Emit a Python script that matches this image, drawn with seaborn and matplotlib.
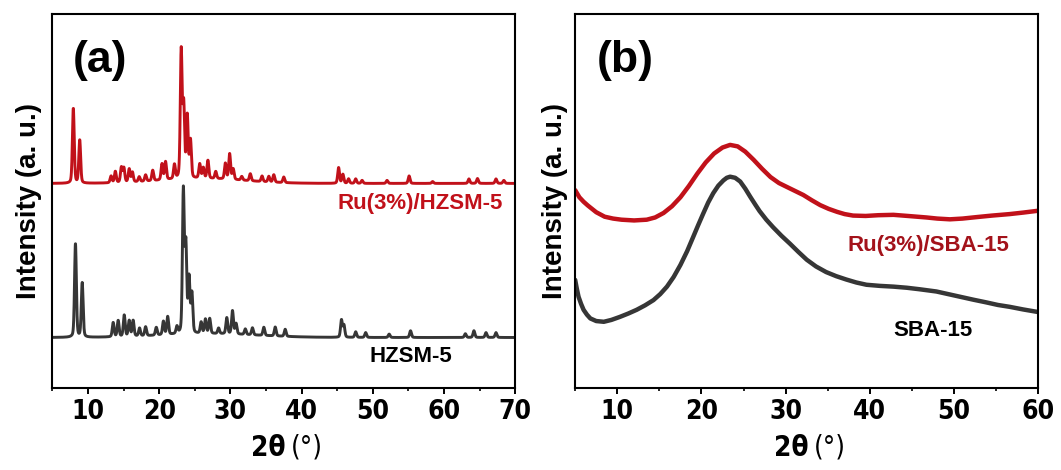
import numpy as np
import pandas as pd
import matplotlib
matplotlib.use("Agg")
import matplotlib.pyplot as plt
import seaborn as sns
from matplotlib.ticker import MultipleLocator

# ---------------- (a) HZSM-5 patterns: reflections (2theta, height) ----------------
ru_hzsm_pos = [7.95, 8.85, 13.25, 13.85, 14.7, 15.05, 15.8, 16.25, 17.2, 18.1, 19.1,
               20.4, 20.9, 22.15, 23.1, 23.45, 23.95, 24.4, 25.7, 26.2, 26.85, 27.95,
               29.3, 29.9, 30.4, 31.6, 32.8, 34.45, 35.4, 36.1, 37.5, 45.2, 45.8,
               46.6, 47.6, 48.5, 52.0, 55.1, 58.4, 63.5, 64.7, 67.3, 68.4]
ru_hzsm_height = [20.0, 11.5, 1.8, 3.0, 4.0, 3.8, 3.5, 2.6, 1.3, 1.7, 2.8,
                  4.3, 4.8, 3.8, 34.0, 19.0, 16.5, 10.0, 3.8, 2.8, 4.8, 1.9,
                  4.2, 6.8, 2.8, 1.0, 1.9, 1.5, 1.5, 2.0, 1.5, 4.2, 2.4,
                  1.2, 1.2, 0.8, 0.8, 2.0, 0.5, 1.2, 1.3, 1.2, 0.8]
ru_hzsm_baseline = 54.7

hzsm_pos = [8.25, 9.2, 13.55, 14.25, 15.1, 15.8, 16.35, 17.25, 18.1, 19.6, 20.6,
            21.2, 22.5, 23.4, 23.75, 24.2, 24.6, 25.9, 26.5, 27.1, 28.35, 29.5,
            30.3, 30.8, 32.1, 33.1, 34.7, 36.3, 37.7, 45.6, 45.95, 47.6, 49.0,
            52.3, 55.3, 63.0, 64.2, 65.9, 67.3]
hzsm_height = [25.0, 14.5, 3.8, 4.3, 5.7, 4.2, 4.2, 2.1, 2.4, 2.1, 3.6,
               4.8, 1.9, 38.0, 23.0, 14.5, 10.5, 3.0, 3.8, 4.0, 1.5, 4.3,
               6.2, 2.8, 1.5, 1.9, 2.2, 2.4, 1.9, 4.6, 3.2, 1.5, 1.3,
               0.9, 1.8, 1.0, 1.8, 1.3, 1.3]
hzsm_baseline = 13.5

# weak amorphous background under each pattern: (centre, height, fwhm)
ru_hzsm_hump = (26.0, 1.3, 14.0)
hzsm_hump = (27.0, 1.0, 16.0)

# ---------------- (b) SBA-15 patterns: intensity read along 2theta ----------------
ru_sba_2theta = [5.0, 5.5, 6.0, 6.5, 7.5, 8.5, 9.5, 10.5, 12.0, 13.5, 14.5, 15.5, 16.5,
                 17.5, 18.5, 19.5, 20.5, 21.5, 22.5, 23.4, 24.3, 25.2, 26.2, 27.2,
                 28.2, 29.2, 30.1, 31.1, 32.1, 33.1, 34.1, 35.1, 36.1, 37.0, 38.0,
                 39.5, 41.0, 42.8, 44.5, 46.7, 48.0, 49.5, 51.0, 52.7, 54.5, 56.6,
                 58.2, 60.0]
ru_sba_int = [52.9, 51.0, 49.8, 48.8, 47.0, 45.8, 45.3, 45.0, 44.8, 45.0, 45.6, 46.8,
              48.6, 51.0, 54.0, 57.3, 60.3, 62.7, 64.3, 65.0, 64.6, 63.2, 61.0, 58.6,
              56.4, 54.8, 53.8, 52.7, 51.6, 50.2, 48.9, 47.9, 47.1, 46.5, 46.1,
              46.0, 46.2, 46.3, 46.0, 45.6, 45.3, 45.1, 45.3, 45.7, 46.1, 46.5,
              46.9, 47.4]

sba_2theta = [5.0, 5.2, 5.4, 5.7, 6.0, 6.4, 6.8, 7.5, 8.4, 9.3, 10.3, 11.3, 12.3, 13.3,
              14.3, 15.1, 15.9, 16.7, 17.5, 18.3, 19.0, 19.6, 20.2, 20.8, 21.4, 22.0,
              22.6, 23.0, 23.4, 24.0, 24.6, 25.2, 25.8, 26.4, 26.9, 27.7, 28.5, 29.5,
              30.5, 31.5, 32.5, 33.6, 34.8, 36.0, 37.2, 38.4, 39.6, 41.2, 42.8, 44.4,
              45.9, 47.9, 49.3, 50.7, 52.3, 53.8, 55.2, 56.6, 58.2, 60.0]
sba_int = [28.9, 26.5, 24.4, 22.5, 20.9, 19.6, 18.6, 17.9, 17.7, 18.2, 19.0, 19.9,
           20.9, 22.1, 23.5, 25.1, 27.1, 29.7, 32.9, 36.6, 40.3, 43.5, 46.6, 49.6,
           52.1, 54.1, 55.5, 56.2, 56.5, 56.2, 55.2, 53.3, 51.1, 49.0, 47.3, 45.0,
           43.0, 40.7, 38.6, 36.4, 34.3, 32.5, 31.0, 29.9, 29.0, 28.2, 27.6, 27.3,
           27.1, 26.8, 26.4, 25.8, 25.1, 24.4, 23.6, 22.9, 22.2, 21.7, 21.0, 20.3]

RED = "#C1111A"
DARK_RED = "#A3121A"
GREY = "#363636"


def xrd_profile(two_theta, positions, heights, baseline, hump, fwhm=0.3, eta=0.3):
    """Pseudo-Voigt reflections on a flat baseline plus a weak broad background."""
    y = np.full_like(two_theta, baseline, dtype=float)
    c, h, w = hump
    y += h * np.exp(-4 * np.log(2) * ((two_theta - c) / w) ** 2)
    for p, a in zip(positions, heights):
        d = (two_theta - p) / fwhm
        gauss = np.exp(-4 * np.log(2) * d ** 2)
        lor = 1.0 / (1.0 + 4 * d ** 2)
        y += a * ((1 - eta) * gauss + eta * lor)
    return y


grid_a = np.arange(5.0, 70.0001, 0.02)
df_a = pd.concat([
    pd.DataFrame({"2theta": grid_a,
                  "intensity": xrd_profile(grid_a, ru_hzsm_pos, ru_hzsm_height,
                                           ru_hzsm_baseline, ru_hzsm_hump),
                  "sample": "Ru(3%)/HZSM-5"}),
    pd.DataFrame({"2theta": grid_a,
                  "intensity": xrd_profile(grid_a, hzsm_pos, hzsm_height,
                                           hzsm_baseline, hzsm_hump),
                  "sample": "HZSM-5"}),
])
df_b = pd.concat([
    pd.DataFrame({"2theta": ru_sba_2theta, "intensity": ru_sba_int, "sample": "Ru(3%)/SBA-15"}),
    pd.DataFrame({"2theta": sba_2theta, "intensity": sba_int, "sample": "SBA-15"}),
])

sns.set_theme(style="ticks")
plt.rcParams["font.family"] = ["Liberation Sans", "DejaVu Sans"]
plt.rcParams["text.color"] = "black"
plt.rcParams["axes.labelcolor"] = "black"
plt.rcParams["xtick.color"] = "black"
plt.rcParams["ytick.color"] = "black"

fig = plt.figure(figsize=(10.61, 4.70), dpi=100)
ax_a = fig.add_axes([0.0493, 0.1745, 0.4363, 0.7957])
ax_b = fig.add_axes([0.5421, 0.1745, 0.4365, 0.7957])

sns.lineplot(data=df_a, x="2theta", y="intensity", hue="sample",
             palette={"Ru(3%)/HZSM-5": RED, "HZSM-5": GREY},
             linewidth=2.1, legend=False, ax=ax_a, estimator=None)
sns.lineplot(data=df_b, x="2theta", y="intensity", hue="sample",
             palette={"Ru(3%)/SBA-15": RED, "SBA-15": GREY},
             linewidth=3.2, legend=False, ax=ax_b, estimator=None)
for ax in (ax_a, ax_b):
    for ln in ax.get_lines():
        ln.set_solid_joinstyle("round")
        ln.set_solid_capstyle("round")

ax_a.set_xlim(5, 70)
ax_b.set_xlim(5, 60)

for ax in (ax_a, ax_b):
    ax.set_ylim(0, 100)
    ax.set_yticks([])
    ax.xaxis.set_major_locator(MultipleLocator(10))
    ax.xaxis.set_minor_locator(MultipleLocator(5))
    ax.tick_params(axis="x", which="major", direction="out", length=4, width=1.4,
                   color="black", labelcolor="black", pad=4)
    ax.tick_params(axis="x", which="minor", direction="out", length=2.5, width=1.2,
                   color="black")
    for s in ax.spines.values():
        s.set_visible(True)
        s.set_linewidth(1.5)
        s.set_color("black")
    for lab in ax.get_xticklabels():
        lab.set_family("DejaVu Sans")
        lab.set_stretch("condensed")
        lab.set_fontweight("bold")
        lab.set_fontsize(19)
    # axis title: bold "2θ" followed by the unit in regular weight
    ax.text(0.503, -0.16, "2θ", transform=ax.transAxes, family="DejaVu Sans",
            fontstretch="condensed", fontweight="bold", fontsize=20,
            ha="right", va="center", color="black")
    ax.text(0.515, -0.16, "(°)", transform=ax.transAxes, family="DejaVu Sans",
            fontstretch="condensed", fontweight="normal", fontsize=20,
            ha="left", va="center", color="black")
    ax.set_xlabel("")
    ax.set_ylabel("Intensity (a. u.)", fontweight="bold", fontsize=20, color="black")

ax_a.yaxis.set_label_coords(-0.022, 0.5)
ax_b.yaxis.set_label_coords(-0.016, 0.5)

ax_a.text(11.7, 87.7, "(a)", fontsize=32, fontweight="bold", ha="center", va="center")
ax_b.text(10.9, 87.7, "(b)", fontsize=32, fontweight="bold", ha="center", va="center")

ax_a.text(56.6, 49.2, "Ru(3%)/HZSM-5", color=RED, fontsize=16, fontweight="bold",
          ha="center", va="center")
ax_a.text(55.3, 8.3, "HZSM-5", color="black", fontsize=16, fontweight="bold",
          ha="center", va="center")
ax_b.text(47.0, 38.0, "Ru(3%)/SBA-15", color=DARK_RED, fontsize=16, fontweight="bold",
          ha="center", va="center")
ax_b.text(47.5, 15.5, "SBA-15", color="black", fontsize=16, fontweight="bold",
          ha="center", va="center")

fig.savefig("out.png", dpi=100, facecolor="white")
